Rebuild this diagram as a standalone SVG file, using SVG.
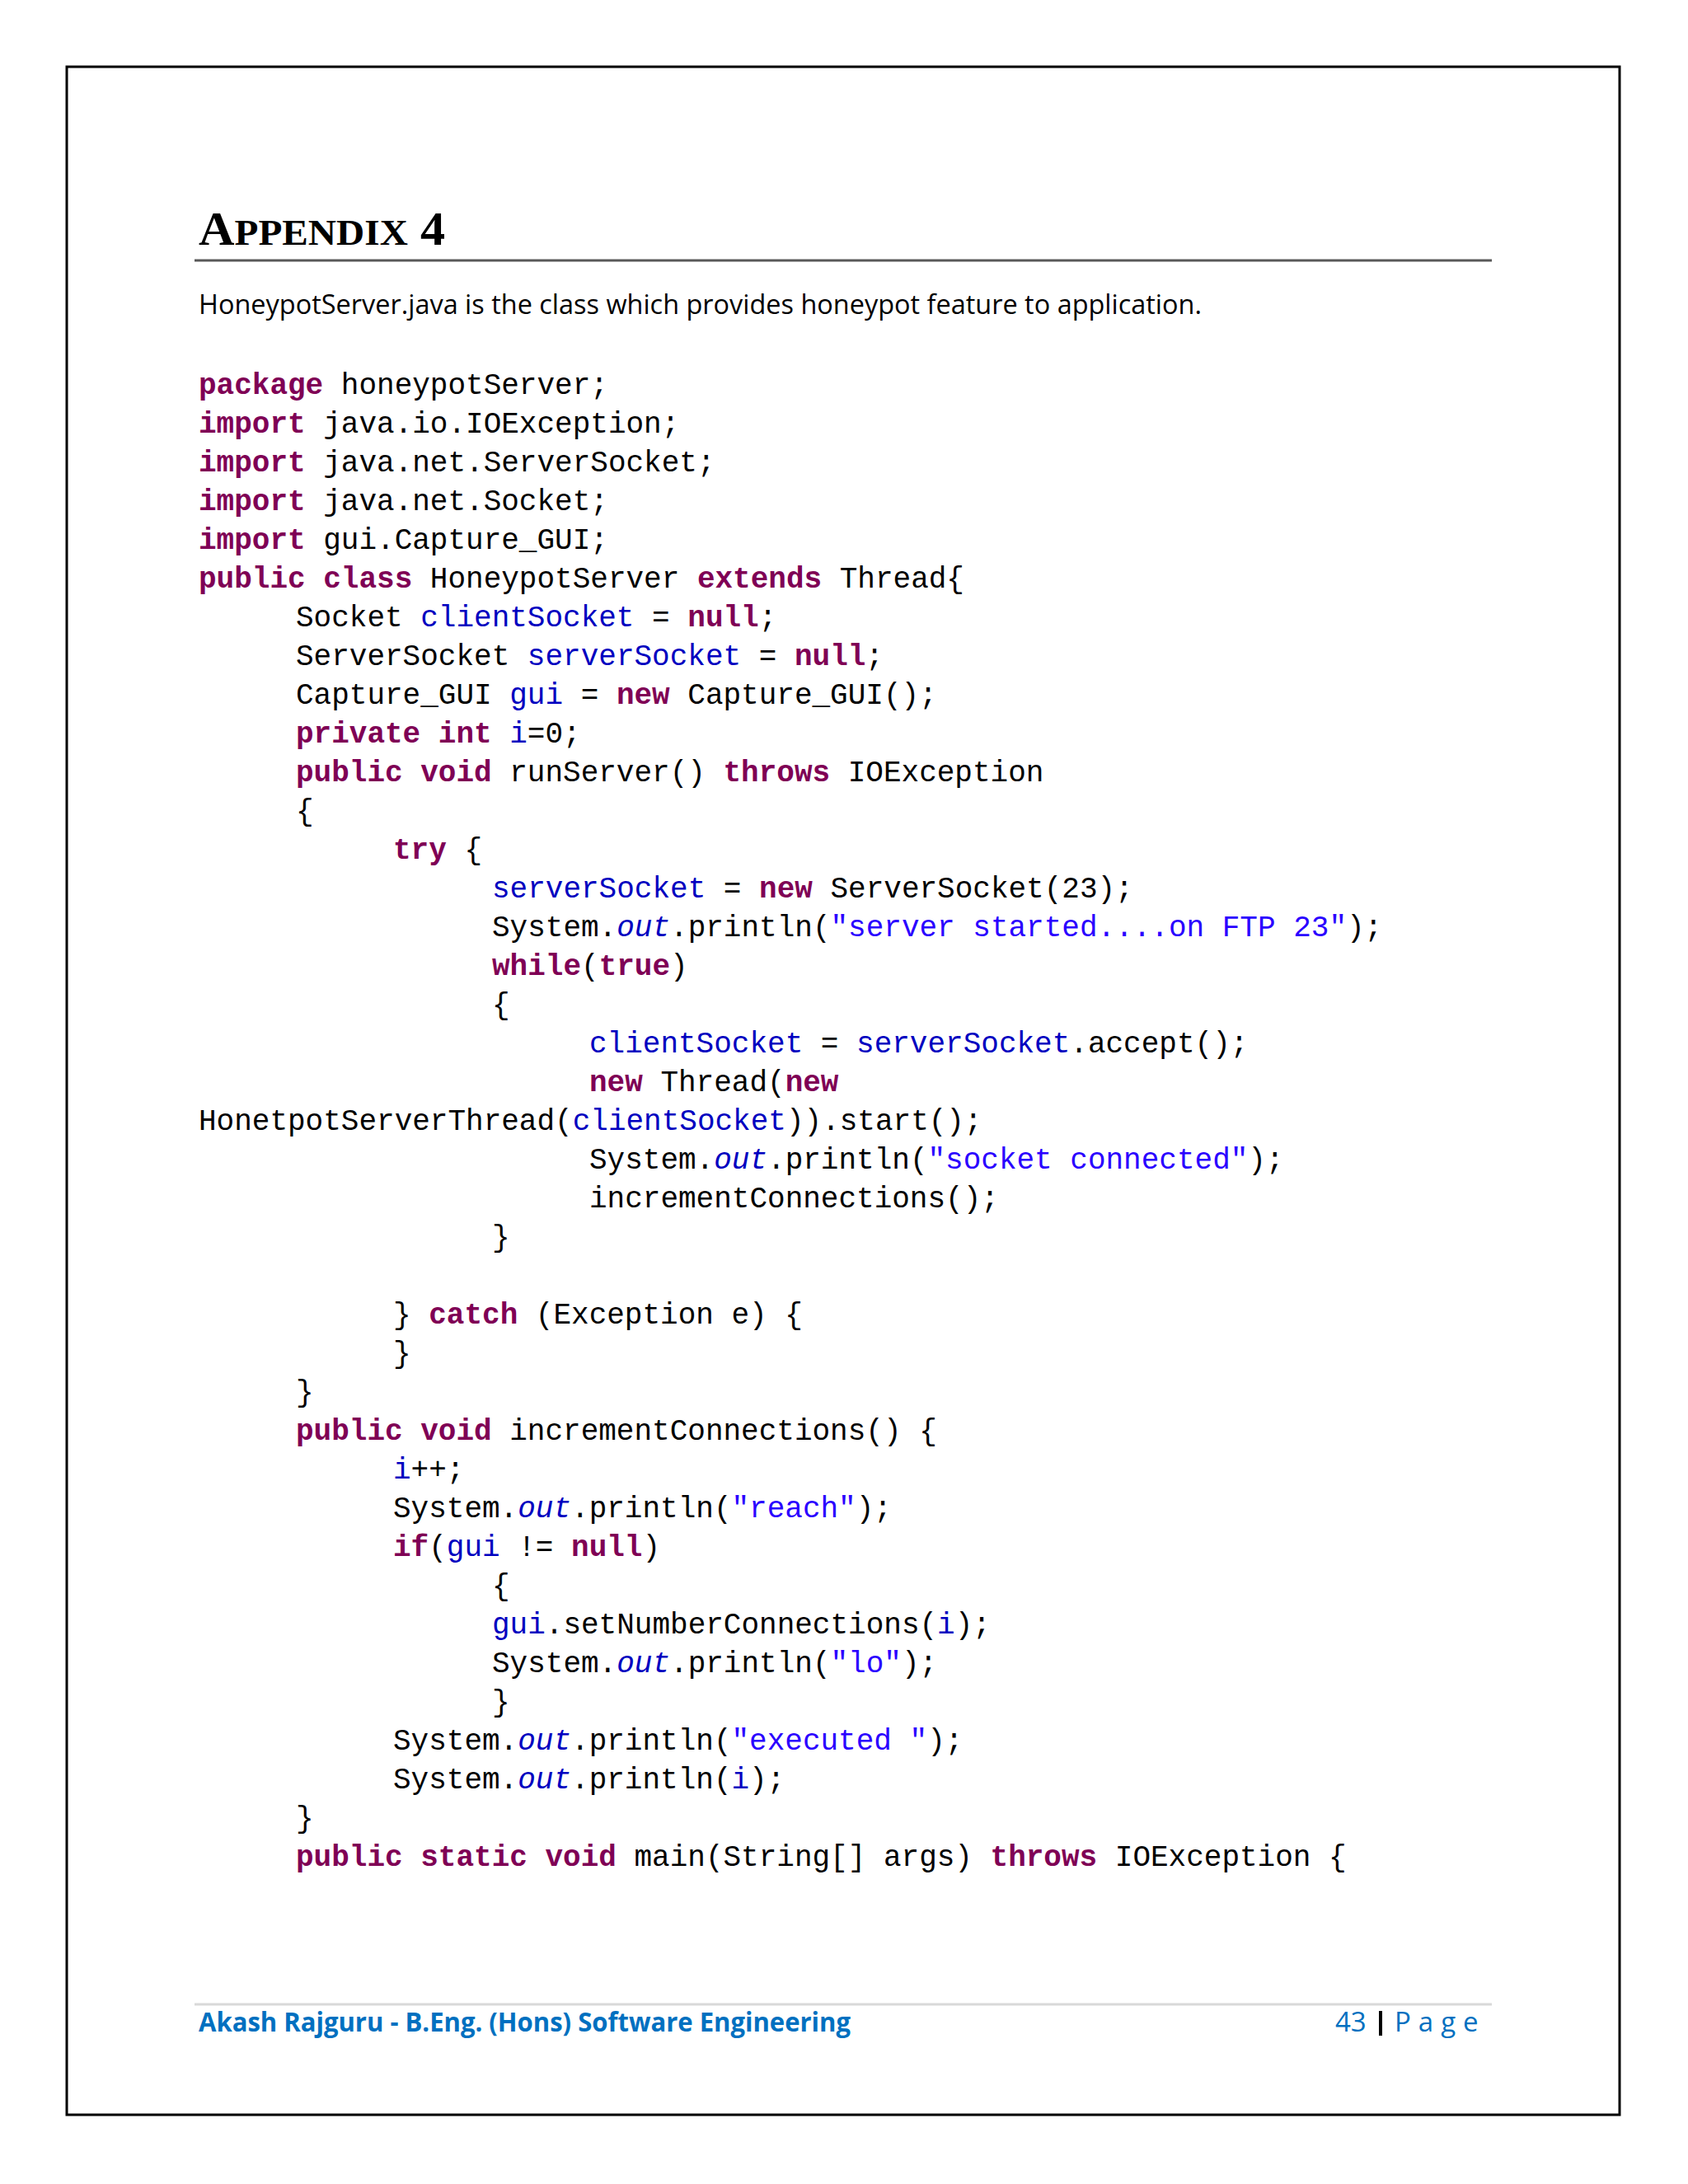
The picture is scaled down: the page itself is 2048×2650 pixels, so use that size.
<svg xmlns="http://www.w3.org/2000/svg" width="2048" height="2650" viewBox="0 0 2048 2650">
<style>
.c{font-family:"Liberation Mono",monospace;font-size:36px;fill:#000;white-space:pre}
.k{fill:#7F0055;font-weight:bold}
.f{fill:#0000C0}
.s{fill:#2A00FF}
.o{fill:#0000C0;font-style:italic}
.ft{font-family:"Open Sans","Liberation Sans",sans-serif;font-size:33px;fill:#0070C0;font-weight:bold}
</style>
<rect width="2048" height="2650" fill="#fff"/>
<g id="page">
<rect x="81" y="81" width="1884" height="2485" fill="none" stroke="#000" stroke-width="3"/>
<text x="241" y="297" font-family="Liberation Serif,serif" font-weight="bold" font-size="56" textLength="299" lengthAdjust="spacingAndGlyphs">A<tspan font-size="44">PPENDIX</tspan> 4</text>
<line x1="236" y1="316" x2="1810" y2="316" stroke="#595959" stroke-width="3"/>
<text x="241" y="381" font-family="Open Sans,Liberation Sans,sans-serif" font-size="32" textLength="1217" lengthAdjust="spacingAndGlyphs">HoneypotServer.java is the class which provides honeypot feature to application.</text>
</g>
<g id="code">
<text class="c" x="241" y="478"><tspan class="k">package</tspan> honeypotServer;</text>
<text class="c" x="241" y="525"><tspan class="k">import</tspan> java.io.IOException;</text>
<text class="c" x="241" y="572"><tspan class="k">import</tspan> java.net.ServerSocket;</text>
<text class="c" x="241" y="619"><tspan class="k">import</tspan> java.net.Socket;</text>
<text class="c" x="241" y="666"><tspan class="k">import</tspan> gui.Capture_GUI;</text>
<text class="c" x="241" y="713"><tspan class="k">public class</tspan> HoneypotServer <tspan class="k">extends</tspan> Thread{</text>
<text class="c" x="359" y="760">Socket <tspan class="f">clientSocket</tspan> = <tspan class="k">null</tspan>;</text>
<text class="c" x="359" y="807">ServerSocket <tspan class="f">serverSocket</tspan> = <tspan class="k">null</tspan>;</text>
<text class="c" x="359" y="854">Capture_GUI <tspan class="f">gui</tspan> = <tspan class="k">new</tspan> Capture_GUI();</text>
<text class="c" x="359" y="901"><tspan class="k">private int</tspan> <tspan class="f">i</tspan>=0;</text>
<text class="c" x="359" y="948"><tspan class="k">public void</tspan> runServer() <tspan class="k">throws</tspan> IOException</text>
<text class="c" x="359" y="995">{</text>
<text class="c" x="477" y="1042"><tspan class="k">try</tspan> {</text>
<text class="c" x="597" y="1089"><tspan class="f">serverSocket</tspan> = <tspan class="k">new</tspan> ServerSocket(23);</text>
<text class="c" x="597" y="1136">System.<tspan class="o">out</tspan>.println(<tspan class="s">"server started....on FTP 23"</tspan>);</text>
<text class="c" x="597" y="1183"><tspan class="k">while</tspan>(<tspan class="k">true</tspan>)</text>
<text class="c" x="597" y="1230">{</text>
<text class="c" x="715" y="1277"><tspan class="f">clientSocket</tspan> = <tspan class="f">serverSocket</tspan>.accept();</text>
<text class="c" x="715" y="1324"><tspan class="k">new</tspan> Thread(<tspan class="k">new</tspan></text>
<text class="c" x="241" y="1371">HonetpotServerThread(<tspan class="f">clientSocket</tspan>)).start();</text>
<text class="c" x="715" y="1418">System.<tspan class="o">out</tspan>.println(<tspan class="s">"socket connected"</tspan>);</text>
<text class="c" x="715" y="1465">incrementConnections();</text>
<text class="c" x="597" y="1512">}</text>
<text class="c" x="477" y="1606">} <tspan class="k">catch</tspan> (Exception e) {</text>
<text class="c" x="477" y="1653">}</text>
<text class="c" x="359" y="1700">}</text>
<text class="c" x="359" y="1747"><tspan class="k">public void</tspan> incrementConnections() {</text>
<text class="c" x="477" y="1794"><tspan class="f">i</tspan>++;</text>
<text class="c" x="477" y="1841">System.<tspan class="o">out</tspan>.println(<tspan class="s">"reach"</tspan>);</text>
<text class="c" x="477" y="1888"><tspan class="k">if</tspan>(<tspan class="f">gui</tspan> != <tspan class="k">null</tspan>)</text>
<text class="c" x="597" y="1935">{</text>
<text class="c" x="597" y="1982"><tspan class="f">gui</tspan>.setNumberConnections(<tspan class="f">i</tspan>);</text>
<text class="c" x="597" y="2029">System.<tspan class="o">out</tspan>.println(<tspan class="s">"lo"</tspan>);</text>
<text class="c" x="597" y="2076">}</text>
<text class="c" x="477" y="2123">System.<tspan class="o">out</tspan>.println(<tspan class="s">"executed "</tspan>);</text>
<text class="c" x="477" y="2170">System.<tspan class="o">out</tspan>.println(<tspan class="f">i</tspan>);</text>
<text class="c" x="359" y="2217">}</text>
<text class="c" x="359" y="2264"><tspan class="k">public static void</tspan> main(String[] args) <tspan class="k">throws</tspan> IOException {</text>
</g>
<g id="footer">
<line x1="236" y1="2432" x2="1810" y2="2432" stroke="#d9d9d9" stroke-width="3"/>
<text class="ft" x="241" y="2465" textLength="791" lengthAdjust="spacingAndGlyphs">Akash Rajguru - B.Eng. (Hons) Software Engineering</text>
<text x="1620" y="2465" font-family="Open Sans,Liberation Sans,sans-serif" font-size="33" fill="#0070C0">43</text>
<line x1="1675" y1="2440" x2="1675" y2="2470" stroke="#000" stroke-width="4"/>
<text x="1692" y="2465" font-family="Open Sans,Liberation Sans,sans-serif" font-size="33" fill="#0070C0" letter-spacing="9">Page</text>
</g>
</svg>
